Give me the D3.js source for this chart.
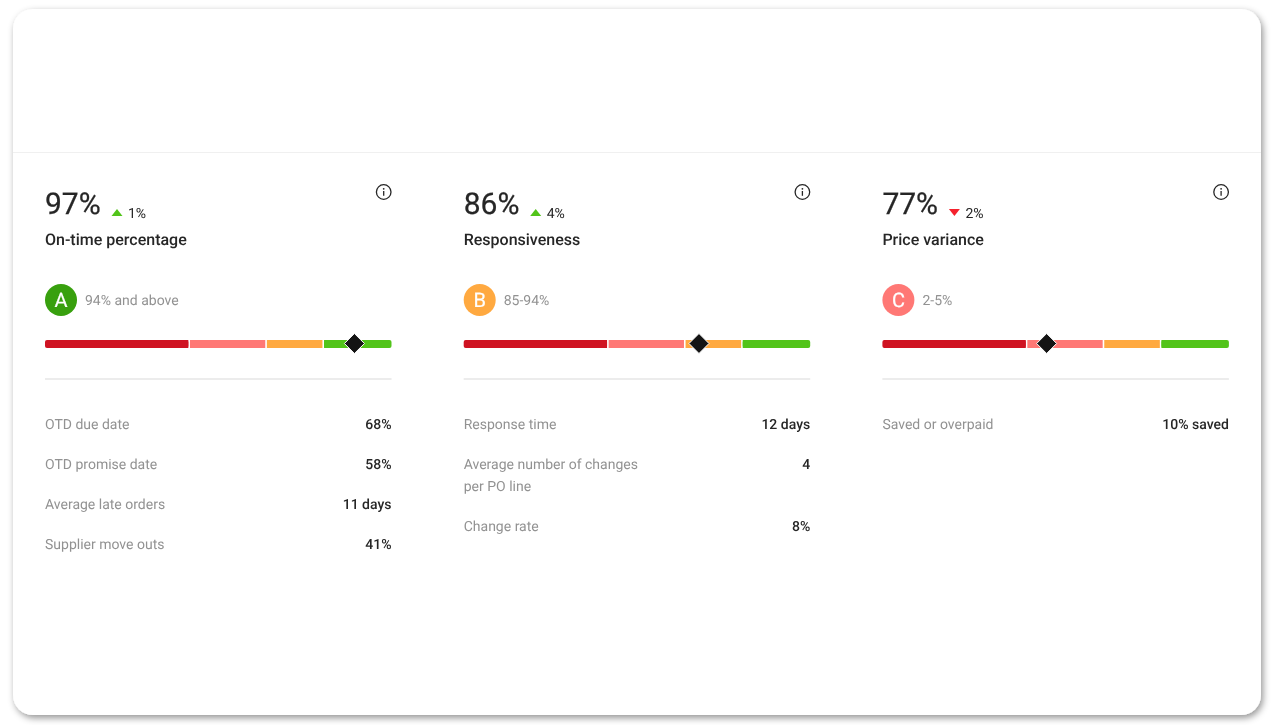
<!DOCTYPE html>
<html><head><meta charset="utf-8">
<script src="https://cdn.jsdelivr.net/npm/d3@7"></script>
<style>html,body{margin:0;padding:0;background:#fff;overflow:hidden}svg{display:block;will-change:transform}text{font-family:Roboto,sans-serif;text-rendering:geometricPrecision}</style>
</head><body><div id="c"></div>
<script>
const titles=["On-time percentage","Responsiveness","Price variance"];
const scores=["97%","86%","77%"];
const deltas=["1%","4%","2%"];
const deltaDirs=["up","up","down"];
const grades=["A","B","C"];
const gradeRanges=["94% and above","85-94%","2-5%"];
const gradeColors=["#38a00e","#ffa940","#ff7875"];
const bandNames=["poor","low","mid","high"];
const bandValues=[41.6,22.2,16.5,19.7];
const bandColors=["#cf1322","#ff7875","#ffa940","#52c41a"];
const markers=[89.3,67.9,47.4];
const rowLabels=[["OTD due date","OTD promise date","Average late orders","Supplier move outs"],["Response time",["Average number of changes","per PO line"],"Change rate"],["Saved or overpaid"]];
const rowValues=[["68%","58%","11 days","41%"],["12 days","4","8%"],["10% saved"]];

const W=1275,H=725;
const svg=d3.select("#c").append("svg").attr("width",W).attr("height",H);
const defs=svg.append("defs");
const f=defs.append("filter").attr("id","sh").attr("x","-5%").attr("y","-5%").attr("width","110%").attr("height","110%");
f.append("feDropShadow").attr("dx",2).attr("dy",3).attr("stdDeviation",3.5).attr("flood-color","#000").attr("flood-opacity",.42);
svg.append("rect").attr("x",13).attr("y",9).attr("width",1248).attr("height",706).attr("rx",20).attr("fill","#fff").attr("filter","url(#sh)");
svg.append("line").attr("x1",13).attr("x2",1261).attr("y1",152.5).attr("y2",152.5).attr("stroke","#f0f0f0");

const colX=d3.scaleLinear().domain([0,1]).range([45,463.7]);
const trackW=346.5;
const pos=d3.scaleLinear().domain([0,100]).range([0,trackW]);
const starts=[0,...d3.cumsum(bandValues)];

titles.forEach((t,i)=>{
  const g=svg.append("g").attr("transform",`translate(${colX(i)},0)`);
  g.append("text").attr("x",0).attr("y",214).attr("font-size",30).attr("fill","#262626").attr("stroke","#262626").attr("stroke-width",.25).text(scores[i]);
  const up=deltaDirs[i]==="up";
  g.append("path").attr("d","M-5.5,3.5L0,-3.5L5.5,3.5Z").attr("transform",`translate(72,212.5) ${up?"":"rotate(180)"}`).attr("fill",up?"#52c41a":"#f5222d");
  g.append("text").attr("x",83).attr("y",218).attr("font-size",14).attr("fill","#262626").text(deltas[i]);
  g.append("text").attr("x",0).attr("y",245).attr("font-size",16).attr("font-weight",500).attr("fill","#262626").text(t);
  const ig=g.append("g").attr("transform",`translate(338.7,192)`);
  ig.append("circle").attr("r",7.3).attr("fill","none").attr("stroke","#262626").attr("stroke-width",1.3);
  ig.append("circle").attr("cy",-3.2).attr("r",.9).attr("fill","#262626");
  ig.append("line").attr("y1",-1).attr("y2",3.8).attr("stroke","#262626").attr("stroke-width",1.3);
  g.append("circle").attr("cx",16).attr("cy",300).attr("r",16).attr("fill",gradeColors[i]);
  g.append("text").attr("x",16).attr("y",307).attr("text-anchor","middle").attr("font-size",20).attr("font-weight",400).attr("stroke","#fff").attr("stroke-width",.2).attr("fill","#fff").text(grades[i]);
  g.append("text").attr("x",40).attr("y",305).attr("font-size",14).attr("fill","#929292").text(gradeRanges[i]);
  bandValues.forEach((v,k)=>{
    const x0=pos(starts[k]),x1=pos(starts[k]+v);
    const gapL=k===0?0:.8,gapR=k===bandValues.length-1?0:.8;
    const x=x0+gapL,w=x1-x0-gapL-gapR;
    if(k===0||k===bandValues.length-1){
      g.append("rect").attr("x",x).attr("y",340).attr("width",w).attr("height",8).attr("rx",2).attr("fill",bandColors[k]);
      g.append("rect").attr("x",k===0?x+3:x).attr("y",340).attr("width",w-3).attr("height",8).attr("fill",bandColors[k]);
    } else {
      g.append("rect").attr("x",x).attr("y",340).attr("width",w).attr("height",8).attr("fill",bandColors[k]);
    }
  });
  g.append("path").attr("d","M0,-10L10,0L0,10L-10,0Z").attr("transform",`translate(${pos(markers[i])},343.5)`).attr("fill","#141414").attr("stroke","#fff").attr("stroke-width",1);
  g.append("line").attr("x1",0).attr("x2",trackW).attr("y1",379).attr("y2",379).attr("stroke","#ececec").attr("stroke-width",2);
  let y=428.7;
  rowLabels[i].forEach((lab,r)=>{
    const lines=Array.isArray(lab)?lab:[lab];
    lines.forEach((l,n)=>g.append("text").attr("x",0).attr("y",y+n*22).attr("font-size",14).attr("fill","#929292").text(l));
    g.append("text").attr("x",trackW).attr("y",y).attr("text-anchor","end").attr("font-size",14).attr("font-weight",500).attr("fill","#262626").text(rowValues[i][r]);
    y+=40+(lines.length-1)*22;
  });
});
</script></body></html>
